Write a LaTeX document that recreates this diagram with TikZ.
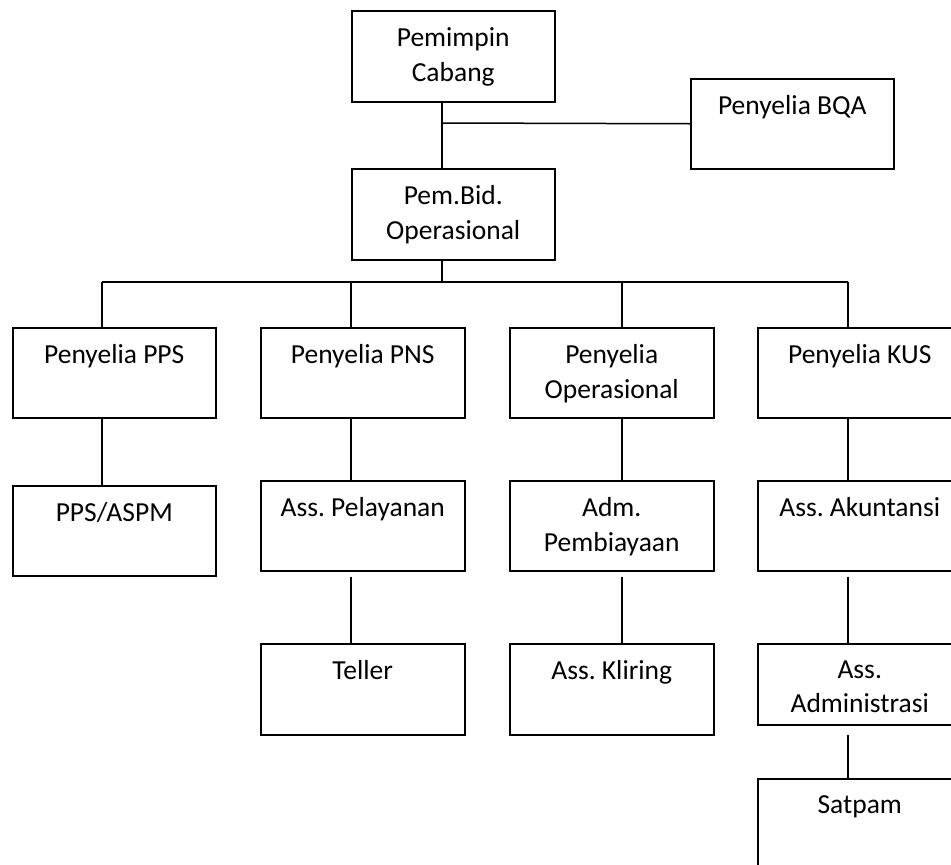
\documentclass[tikz,border=0pt]{standalone}
\usepackage{fontspec}
\setmainfont{Carlito}
\usepackage{tikz}
\usetikzlibrary{calc}
\frenchspacing
\tikzset{
  kotak/.style={draw, anchor=north west, minimum width=203pt, minimum height=90pt, inner sep=0pt},
  judul/.style={anchor=north, align=center, inner sep=0pt, yshift=-17pt, font=\fontsize{27.5}{34.5}\selectfont},
}

\begin{document}
\begin{tikzpicture}[x=1pt,y=-1pt,line width=1.5pt]
\useasboundingbox (0,0) rectangle (951,865);
\clip (0,0) rectangle (951,865);
%top
\node[kotak,minimum height=91pt,label={[judul]north:Pemimpin\\Cabang}] (pc) at (351,10) {};
\node[kotak,label={[judul]north:Penyelia BQA}] (bqa) at (690,78) {};
\node[kotak,minimum height=91pt,label={[judul]north:Pem.Bid.\\Operasional}] (pbo) at (351,168) {};
%row 1
\node[kotak,label={[judul]north:Penyelia PPS}] (pps) at (12,327) {};
\node[kotak,minimum width=204pt,label={[judul]north:Penyelia PNS}] (pns) at (260,327) {};
\node[kotak,minimum width=204pt,label={[judul]north:Penyelia\\Operasional}] (pop) at (509,327) {};
\node[kotak,minimum width=204pt,label={[judul]north:Penyelia KUS}] (kus) at (757,327) {};
%row 2
\node[kotak,label={[judul]north:PPS/ASPM}] (aspm) at (12,485) {};
\node[kotak,minimum width=204pt,label={[judul]north:Ass. Pelayanan}] (pel) at (260,480) {};
\node[kotak,minimum width=204pt,label={[judul]north:Adm.\\Pembiayaan}] (pemb) at (509,480) {};
\node[kotak,minimum width=204pt,label={[judul]north:Ass. Akuntansi}] (aku) at (757,480) {};
%row 3
\node[kotak,minimum width=204pt,minimum height=91pt,label={[judul]north:Teller}] (tel) at (260,643) {};
\node[kotak,minimum width=204pt,minimum height=91pt,label={[judul]north:Ass. Kliring}] (kli) at (509,643) {};
\node[kotak,minimum width=204pt,minimum height=81pt,label={[judul]north:Ass.\\Administrasi}] (adm) at (757,643) {};
\node[kotak,minimum width=204pt,label={[judul]north:Satpam}] (sat) at (757,778) {};
%junctions
\coordinate (j0) at (442,123);
\coordinate (j1) at (102,282);
\coordinate (j2) at (351,282);
\coordinate (j3) at (622,282);
\coordinate (j4) at (848,282);
%lines
\draw (pc.south -| j0)--(pbo.north -| j0);
\draw (j0)--(bqa.west);
\draw (pbo.south -| j0)--(j0 |- j1);
\draw (j1)--(j4);
\draw (j1)--(j1 |- pps.north);
\draw (j2)--(j2 |- pns.north);
\draw (j3)--(j3 |- pop.north);
\draw (j4)--(j4 |- kus.north);
\draw (j1 |- pps.south)--(j1 |- aspm.north);
\draw (j2 |- pns.south)--(j2 |- pel.north);
\draw (j3 |- pop.south)--(j3 |- pemb.north);
\draw (j4 |- kus.south)--(j4 |- aku.north);
\draw[shorten <=5pt] (j2 |- pel.south)--(j2 |- tel.north);
\draw[shorten <=5pt] (j3 |- pemb.south)--(j3 |- kli.north);
\draw[shorten <=5pt] (j4 |- aku.south)--(j4 |- adm.north);
\draw[shorten <=9pt] (j4 |- adm.south)--(j4 |- sat.north);
\end{tikzpicture}
\end{document}
